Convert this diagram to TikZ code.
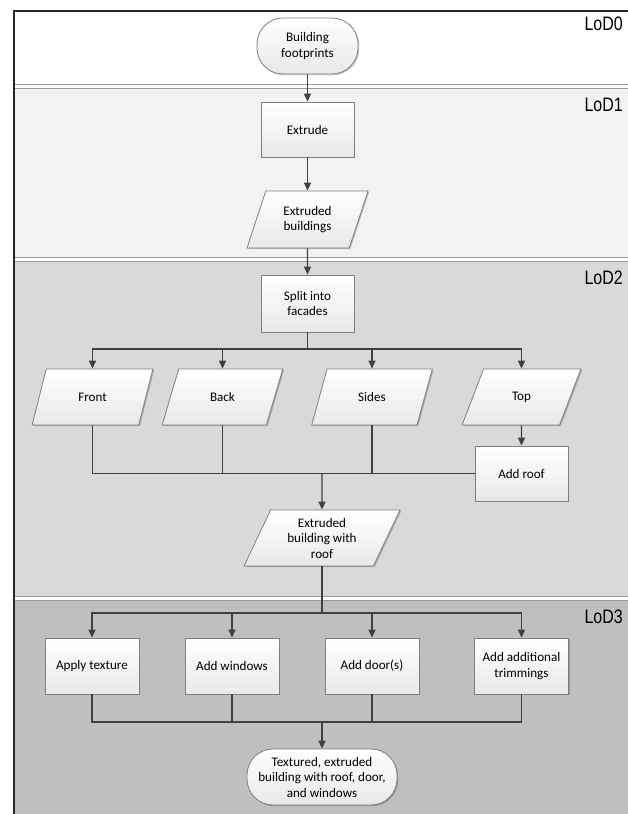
\documentclass[tikz,border=0pt]{standalone}
\usepackage{fontspec}
\setmainfont{Carlito}
\newfontfamily\lodfont[FakeStretch=0.82]{Liberation Sans}
\usetikzlibrary{arrows.meta,shapes.geometric,shadows}

\definecolor{lodA}{HTML}{FFFFFF}
\definecolor{lodB}{HTML}{F2F2F2}
\definecolor{lodC}{HTML}{D9D9D9}
\definecolor{lodD}{HTML}{BFBFBF}
\definecolor{bandedge}{HTML}{9A9A9A}
\definecolor{wire}{HTML}{404040}
\definecolor{shapeedge}{HTML}{7F7F7F}

\tikzset{
  band/.style={draw=bandedge, line width=1pt},
  lodlabel/.style={font=\lodfont\fontsize{19.5}{22}\selectfont, anchor=east, inner sep=0pt},
  shapebase/.style={draw=shapeedge, line width=0.8pt, top color=white, bottom color=black!9,
    align=center, inner sep=0pt, font=\fontsize{13.1}{15.5}\selectfont,
    drop shadow={shadow xshift=1.2pt, shadow yshift=-1.2pt, opacity=0.22, fill=black}},
  procbox/.style={shapebase, rectangle, minimum width=93pt, minimum height=56pt},
  terminal/.style={shapebase, rectangle, rounded corners=26pt, minimum height=56pt},
  databox/.style={shapebase, trapezium, trapezium stretches=true,
    trapezium left angle=#1, trapezium right angle=180-#1, minimum height=56pt},
  wireline/.style={draw=wire, line width=1.4pt},
  arrowline/.style={wireline, -{Triangle[length=8pt,width=7pt]}},
}

\begin{document}
\begin{tikzpicture}[x=1pt, y=-1pt]
\useasboundingbox (0,0) rectangle (628,814);
\clip (0,0) rectangle (628,814);

% level-of-detail bands
\fill[white] (0,0) rectangle (628,814);
\draw[band, fill=lodA] (14,11) rectangle (660,84);
\draw[band, fill=lodB] (14,88) rectangle (660,257);
\draw[band, fill=lodC] (14,261) rectangle (660,596);
\draw[band, fill=lodD] (14,600) rectangle (660,830);
% outer frame
\draw[black!85, line width=1.2pt] (14,830) -- (14,11) -- (660,11);

\node[lodlabel] (lod0) at (623,23.5) {LoD0};
\node[lodlabel] (lod1) at (623,104.5) {LoD1};
\node[lodlabel] (lod2) at (623,277.5) {LoD2};
\node[lodlabel] (lod3) at (623,616.5) {LoD3};

% LoD0 / LoD1
\node[terminal, minimum width=101pt] (fp) at (307.5,46) {Building\\footprints};
\node[procbox, minimum height=55pt] (extrude) at (307.5,129.5) {Extrude};
\node[databox=68, minimum width=121pt, minimum height=57pt] (extb) at (307.5,219.5) {Extruded\\buildings};

% LoD2
\node[procbox, minimum height=57pt] (split) at (307.5,303.5) {Split into\\facades};
\node[databox=63, minimum width=121pt] (front) at (92.5,397) {Front};
\node[databox=63, minimum width=121pt] (back) at (222.5,397) {Back};
\node[databox=63, minimum width=121pt] (sides) at (372,397) {Sides};
\node[databox=63, minimum width=119pt] (top) at (521.5,397) {Top};
\node[procbox, minimum height=55pt] (roof) at (521.5,473.5) {Add roof};
\node[databox=66, minimum width=156pt] (extbr) at (322,538) {Extruded\\building with\\roof};

% LoD3
\node[procbox, minimum width=94pt] (tex) at (92,666) {Apply texture};
\node[procbox, minimum width=94pt] (win) at (232,666) {Add windows};
\node[procbox, minimum width=94pt] (door) at (372,666) {Add door(s)};
\node[procbox, minimum width=94pt] (trim) at (521.5,666) {Add additional\\trimmings};
\node[terminal, minimum width=150pt] (final) at (322,777) {Textured, extruded\\building with roof, door,\\and windows};

% junction points
\coordinate (bus2) at (307.5,349);
\coordinate (join2) at (322,473.5);
\coordinate (bus3) at (322,613);
\coordinate (join3) at (322,722);

% connectors
\draw[arrowline] (fp) -- (extrude);
\draw[arrowline] (extrude) -- (extb);
\draw[arrowline] (extb) -- (split);

\draw[wireline] (split) -- (bus2);
\draw[arrowline] (bus2) -| (front.north);
\draw[arrowline] (bus2) -| (back.north);
\draw[arrowline] (bus2) -| (sides.north);
\draw[arrowline] (bus2) -| (top.north);
\draw[arrowline] (top) -- (roof);

\draw[wireline] (front.south) |- (roof.west);
\draw[wireline] (back.south) -- (back.south |- join2);
\draw[wireline] (sides.south) -- (sides.south |- join2);
\draw[arrowline] (join2) -- (extbr);

\draw[wireline] (extbr) -- (bus3);
\draw[arrowline] (bus3) -| (tex.north);
\draw[arrowline] (bus3) -| (win.north);
\draw[arrowline] (bus3) -| (door.north);
\draw[arrowline] (bus3) -| (trim.north);

\draw[wireline] (tex.south) |- (join3) -| (trim.south);
\draw[wireline] (win.south) -- (win.south |- join3);
\draw[wireline] (door.south) -- (door.south |- join3);
\draw[arrowline] (join3) -- (final);
\end{tikzpicture}
\end{document}
